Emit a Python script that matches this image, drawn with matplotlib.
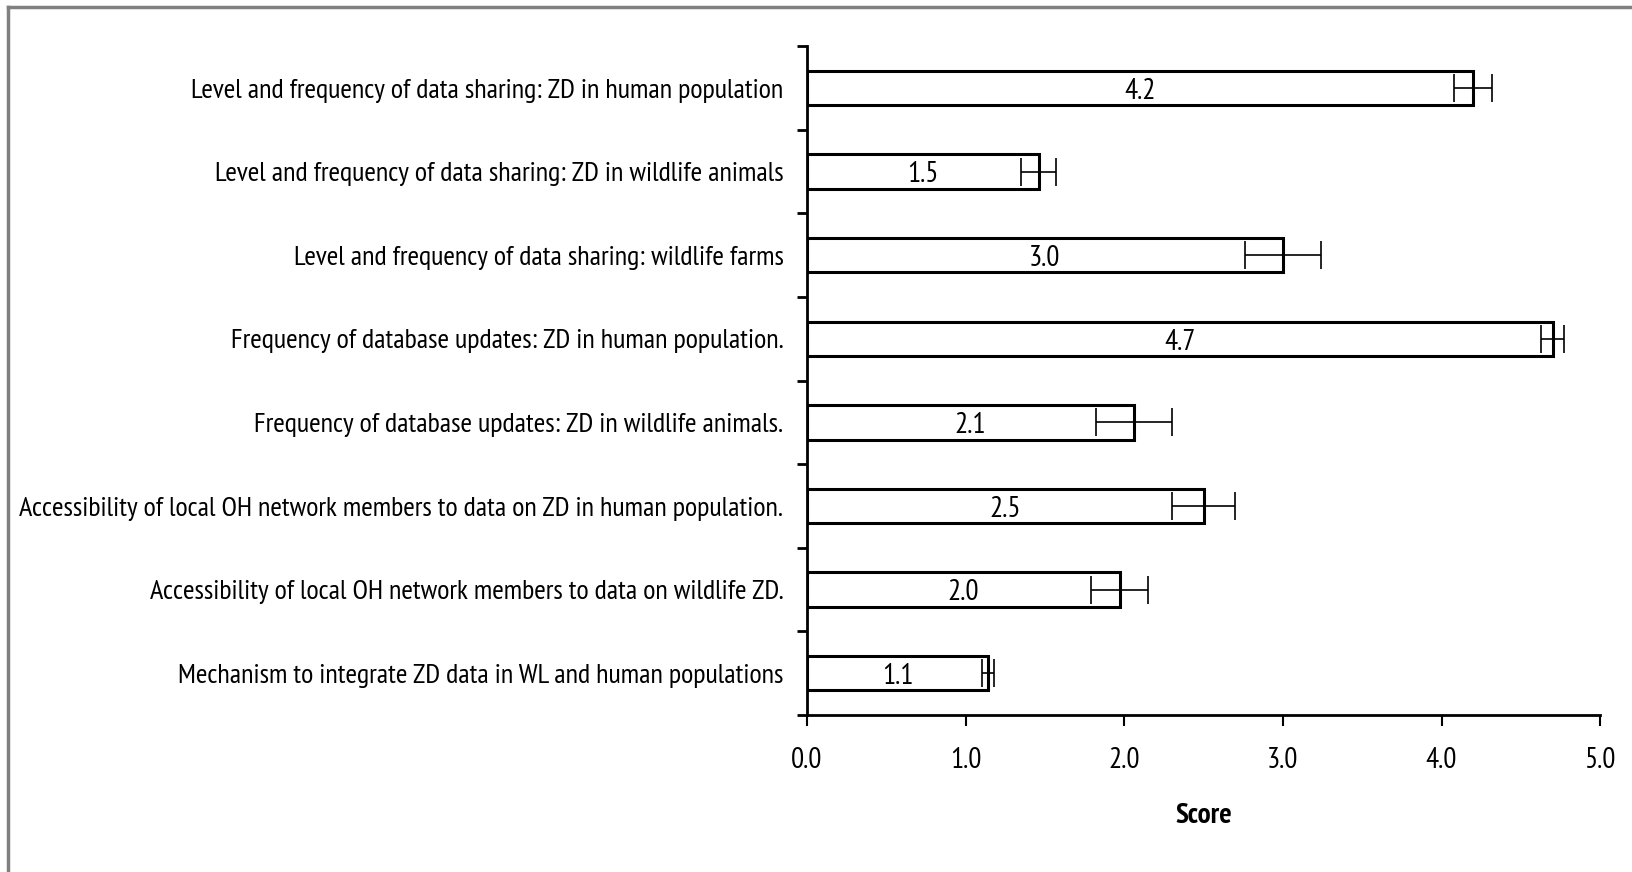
import numpy as np
import matplotlib
matplotlib.use("Agg")
import matplotlib.pyplot as plt
from matplotlib.lines import Line2D

plt.rcParams["font.family"] = ["PT Sans Narrow", "Ubuntu Condensed", "Archivo Narrow",
                               "Liberation Sans Narrow", "DejaVu Sans"]

categories = [
    "Level and frequency of data sharing: ZD in human population",
    "Level and frequency of data sharing: ZD in wildlife animals",
    "Level and frequency of data sharing: wildlife farms",
    "Frequency of database updates: ZD in human population.",
    "Frequency of database updates: ZD in wildlife animals.",
    "Accessibility of local OH network members to data on ZD in human population.",
    "Accessibility of local OH network members to data on wildlife ZD.",
    "Mechanism to integrate ZD data in WL and human populations",
]
scores = [4.20, 1.46, 3.00, 4.70, 2.06, 2.50, 1.97, 1.14]
errors = [0.12, 0.11, 0.24, 0.07, 0.24, 0.20, 0.18, 0.04]
x_ticks = [0.0, 1.0, 2.0, 3.0, 4.0, 5.0]

fig = plt.figure(figsize=(16.32, 8.72), dpi=100)
ax = fig.add_axes([0.4945, 0.180, 0.486, 0.767])

ypos = np.arange(len(categories))
ax.barh(ypos, scores, height=0.41, color="white", edgecolor="black", linewidth=2.2,
        xerr=errors, error_kw=dict(ecolor="black", elinewidth=1.2, capsize=10, capthick=1.2))

for y, v in zip(ypos, scores):
    ax.text(v / 2, y + 0.04, "%.1f" % v, ha="center", va="center", fontsize=21)

ax.set_xlim(0, 5)
ax.set_ylim(len(categories) - 0.5, -0.5)
ax.set_xticks(x_ticks)
ax.set_xticklabels(["%.1f" % t for t in x_ticks])

# major ticks on category borders, labels on the centres
ax.set_yticks(np.arange(-0.5, len(categories), 1.0))
ax.set_yticklabels([])
ax.set_yticks(ypos, minor=True)
ax.set_yticklabels(categories, minor=True)
ax.tick_params(axis="y", which="major", direction="out", length=7, width=2)
ax.tick_params(axis="y", which="minor", length=0, pad=17, labelsize=20)
ax.tick_params(axis="x", direction="out", length=8, width=1.5, pad=15, labelsize=21)

for s in ["top", "right"]:
    ax.spines[s].set_visible(False)
for s in ["left", "bottom"]:
    ax.spines[s].set_linewidth(2)

ax.set_xlabel("Score", fontsize=21, fontweight="bold", labelpad=21)

# fit the widest category label to the width it has in the source chart
fig.canvas.draw()
r = fig.canvas.get_renderer()
ylabels = ax.get_yticklabels(minor=True)
widest = max(t.get_window_extent(r).width for t in ylabels)
for t in ylabels:
    t.set_fontsize(20 * 765.0 / widest)

# grey frame, top and left edges
fig.add_artist(Line2D([0.005, 1.0], [0.992, 0.992], color="#808080", linewidth=2.5))
fig.add_artist(Line2D([0.005, 0.005], [0.0, 0.992], color="#808080", linewidth=2.5))

fig.savefig("out.png", dpi=100)
